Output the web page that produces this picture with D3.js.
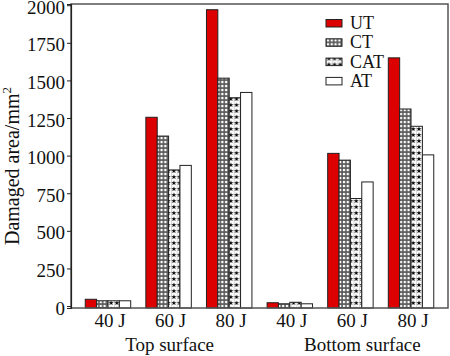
<!DOCTYPE html>
<html><head><meta charset="utf-8">
<script src="https://cdn.jsdelivr.net/npm/d3@7"></script>
<style>body{margin:0;background:#fff}svg{display:block}text{font-family:"Liberation Serif","Times New Roman",serif;fill:#111}</style>
</head><body><svg id="c" width="450" height="356"></svg>
<script>
const surfaces = ["Top surface", "Bottom surface"];
const energies = ["40 J", "60 J", "80 J"];
const series = ["UT", "CT", "CAT", "AT"];
// values per series: Top 40/60/80 J, Bottom 40/60/80 J
const UT  = [45, 1255, 1970, 22, 1015, 1650];
const CT  = [35, 1130, 1515, 15, 970, 1310];
const CAT = [35, 905, 1385, 25, 715, 1195];
const AT  = [35, 935, 1420, 15, 825, 1005];
const yTicks = [0, 250, 500, 750, 1000, 1250, 1500, 1750, 2000];

const seriesValues = {UT, CT, CAT, AT};
const groups = [];
surfaces.forEach(s => energies.forEach(e => groups.push(s + "|" + e)));

const svg = d3.select("#c");
const L = 71, R = 448, T = 4, B = 308;
const y = d3.scaleLinear().domain([-13, 2008]).range([B, T]);
const x0 = d3.scaleBand().domain(groups).range([L, R]).paddingInner(0.25).paddingOuter(0.235);
const x1 = d3.scaleBand().domain(series).range([0, x0.bandwidth()]);

const defs = svg.append("defs");
// CT: checkered grid pattern
const pCT = defs.append("pattern").attr("id", "pCT").attr("patternUnits", "userSpaceOnUse")
  .attr("width", 3.8).attr("height", 4);
pCT.append("rect").attr("width", 3.8).attr("height", 4).attr("fill", "#5a5a5a");
pCT.append("rect").attr("x", 0.9).attr("y", 0.9).attr("width", 2.2).attr("height", 2.3).attr("fill", "#fff");
// CAT: stars pattern
const pCAT = defs.append("pattern").attr("id", "pCAT").attr("patternUnits", "userSpaceOnUse")
  .attr("width", 5.7).attr("height", 6);
pCAT.append("rect").attr("width", 5.7).attr("height", 6).attr("fill", "#fff");
pCAT.append("line").attr("x1", 0).attr("x2", 0).attr("y1", 0).attr("y2", 6).attr("stroke", "#999").attr("stroke-width", 0.8);
pCAT.append("path").attr("transform", "translate(2.85,3)")
  .attr("d", d3.symbol(d3.symbolStar).size(9)()).attr("fill", "#000");

const fills = {UT: "#dc0000", CT: "url(#pCT)", CAT: "url(#pCAT)", AT: "#fff"};

// bars
const g = svg.append("g");
series.forEach(s => {
  g.selectAll(null).data(seriesValues[s]).enter().append("rect")
    .attr("x", (d, i) => x0(groups[i]) + x1(s))
    .attr("width", x1.bandwidth())
    .attr("y", d => y(d))
    .attr("height", d => y(-13) - y(d))
    .attr("fill", fills[s])
    .attr("stroke", "#222").attr("stroke-width", 1);
});

// frame
svg.append("rect").attr("x", L).attr("y", T).attr("width", R - L).attr("height", B - T)
  .attr("fill", "none").attr("stroke", "#555").attr("stroke-width", 1.5);

// y axis
const ya = svg.append("g").attr("transform", `translate(${L},0)`)
  .call(d3.axisLeft(y).tickValues(yTicks).tickSize(4).tickPadding(2).tickFormat(d3.format("d")));
ya.select(".domain").attr("stroke", "#222").attr("stroke-width", 1.2);
ya.selectAll(".tick line").attr("stroke", "#222");
ya.selectAll("text").attr("font-size", 19).attr("dy", "0.42em").attr("fill", "#111");

// y title
const yt = svg.append("text").attr("transform", "translate(19,166) rotate(-90)")
  .attr("text-anchor", "middle").attr("font-size", 20);
yt.append("tspan").text("Damaged area/mm");
yt.append("tspan").attr("font-size", 13).attr("dy", -8).text("2");

// x labels
svg.selectAll(".xl").data(groups).enter().append("text")
  .attr("x", d => x0(d) + x0.bandwidth() / 2 + 2).attr("y", 327)
  .attr("text-anchor", "middle").attr("font-size", 19)
  .text(d => d.split("|")[1]);
svg.selectAll(".sl").data(surfaces).enter().append("text")
  .attr("x", (d, i) => x0(d + "|" + energies[1]) + x0.bandwidth() / 2 + (i === 1 ? 12 : 1))
  .attr("y", 351).attr("text-anchor", "middle").attr("font-size", 19)
  .text(d => d);

// legend
const lg = svg.append("g").attr("transform", "translate(326,23)");
series.forEach((s, i) => {
  const r = lg.append("g").attr("transform", `translate(0,${i * 19.3})`);
  r.append("rect").attr("x", 0).attr("y", -3.5).attr("width", 16).attr("height", 7.5)
    .attr("fill", fills[s]).attr("stroke", "#222").attr("stroke-width", 1);
  r.append("text").attr("x", 24).attr("y", 6).attr("font-size", 18).text(s);
});
</script></body></html>
